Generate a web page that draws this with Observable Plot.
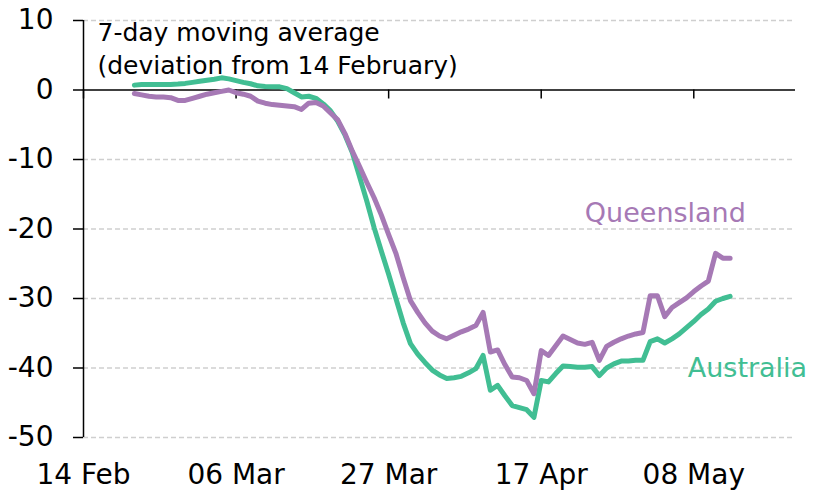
<!DOCTYPE html>
<html><head><meta charset="utf-8">
<script src="https://cdn.jsdelivr.net/npm/d3@7"></script>
<script src="https://cdn.jsdelivr.net/npm/@observablehq/plot@0.6"></script>
<style>body{margin:0;background:#fff} #chart{width:813px;height:491px}</style>
</head><body><div id="chart"></div>
<script>
// Daily 7-day moving averages, 21 Feb – 13 May 2020 (deviation from 14 February, %)
const startDate = "2020-02-21";
const endDate = "2020-05-14"; // exclusive
const australia = [
  0.7, 0.8, 0.8, 0.8, 0.8, 0.8, 0.85, 0.95, 1.1, 1.25, 1.4, 1.55, 1.75,
  1.6, 1.35, 1.1, 0.9, 0.6, 0.5, 0.45, 0.45, 0.2, -0.4, -1.0, -0.9, -1.2, -2.0, -3.0,
  -4.5, -6.5, -9.0, -12.5, -16.0, -19.8, -23.2, -26.5, -30.0, -33.5, -36.5, -38.0, -39.2, -40.3, -41.0, -41.5, -41.4, -41.2, -40.7, -40.1,
  -38.2, -43.2, -42.5, -44.0, -45.4, -45.7, -46.0, -47.1, -41.8, -42.0, -40.8, -39.7, -39.8, -39.9, -39.9, -39.8, -41.1,
  -40.0, -39.4, -39.0, -39.0, -38.9, -38.9, -36.2, -35.8, -36.4, -35.8, -35.1, -34.2, -33.3, -32.3, -31.5, -30.4, -30.0, -29.7
];
const queensland = [
  -0.5, -0.7, -0.9, -1.0, -1.0, -1.1, -1.5, -1.5, -1.2, -0.9, -0.6, -0.4, -0.2,
  0.0, -0.4, -0.6, -0.9, -1.6, -1.9, -2.1, -2.2, -2.3, -2.4, -2.8, -1.9, -1.8, -2.3, -3.3,
  -4.3, -6.3, -8.8, -11.0, -13.3, -15.5, -18.0, -20.8, -23.5, -27.0, -30.3, -32.0, -33.5, -34.7, -35.4, -35.8, -35.3, -34.8, -34.4, -33.9,
  -32.0, -37.7, -37.4, -39.5, -41.3, -41.4, -41.8, -43.7, -37.5, -38.2, -36.8, -35.4, -35.9, -36.4, -36.6, -36.3, -38.9,
  -36.9, -36.3, -35.8, -35.4, -35.1, -34.9, -29.6, -29.6, -32.6, -31.3, -30.6, -29.9, -29.0, -28.2, -27.5, -23.5, -24.2, -24.2
];
const seriesNames = ["Australia", "Queensland"];
const seriesColors = ["#41be93", "#a679b5"];
const yTicks = [-50, -40, -30, -20, -10, 0, 10];
const xTickDates = ["2020-02-14", "2020-03-06", "2020-03-27", "2020-04-17", "2020-05-08"];
const xDomain = ["2020-02-14", "2020-05-22"];
const titleText = "7-day moving average\n(deviation from 14 February)";
const seriesLabels = [
  {name: "Queensland", date: "2020-04-23T00:00:00Z", value: -17.8},
  {name: "Australia", date: "2020-05-07T04:00:00Z", value: -40.0}
];

const parse = d3.utcParse("%Y-%m-%d");
const dates = d3.utcDay.range(parse(startDate), parse(endDate));
const seriesValues = [australia, queensland];
const rows = seriesNames.flatMap((name, k) => dates.map((date, i) => ({name, date, value: seriesValues[k][i]})));
const labelRows = seriesLabels.map(d => ({...d, date: new Date(d.date)}));
const xTicks = xTickDates.map(parse);

const chart = Plot.plot({
  width: 813,
  height: 491,
  marginLeft: 83,
  marginRight: 18,
  marginTop: 20,
  marginBottom: 54,
  style: {fontFamily: "DejaVu Sans", fontSize: "28px", color: "#000", background: "#fff", overflow: "visible"},
  x: {type: "utc", domain: xDomain.map(parse)},
  y: {domain: [-50, 10]},
  color: {domain: seriesNames, range: seriesColors},
  marks: [
    Plot.gridY({ticks: yTicks.filter(d => d !== 0), stroke: "#cfcfcf", strokeOpacity: 1, strokeDasharray: "5,3", strokeWidth: 1.5}),
    Plot.ruleY([0], {stroke: "#000", strokeWidth: 1.5}),
    Plot.ruleX(xTicks, {x: d => d, y1: 0, y2: 0, insetBottom: -9, stroke: "#000", strokeWidth: 1.5}),
    Plot.ruleX([parse(xDomain[0])], {stroke: "#000", strokeWidth: 1.5}),
    Plot.axisY({ticks: yTicks, tickSize: 10, tickPadding: 20, tickFormat: d => String(d), label: null, fontSize: 28, strokeWidth: 1.5}),
    Plot.axisX({ticks: xTicks, tickFormat: d3.utcFormat("%d %b"), tickSize: 0, tickPadding: 27, label: null, fontSize: 28}),
    Plot.lineY(rows, {x: "date", y: "value", z: "name", stroke: "name", strokeWidth: 5, strokeLinejoin: "round"}),
    Plot.text(labelRows, {x: "date", y: "value", text: "name", fill: "name", textAnchor: "start", fontSize: 27}),
    Plot.text([titleText], {frameAnchor: "top-left", text: d => d, textAnchor: "start", lineAnchor: "top", dx: 14, dy: -3, fontSize: 25, lineHeight: 1.32, fill: "#000"})
  ]
});
document.getElementById("chart").append(chart);
</script>
</body></html>
